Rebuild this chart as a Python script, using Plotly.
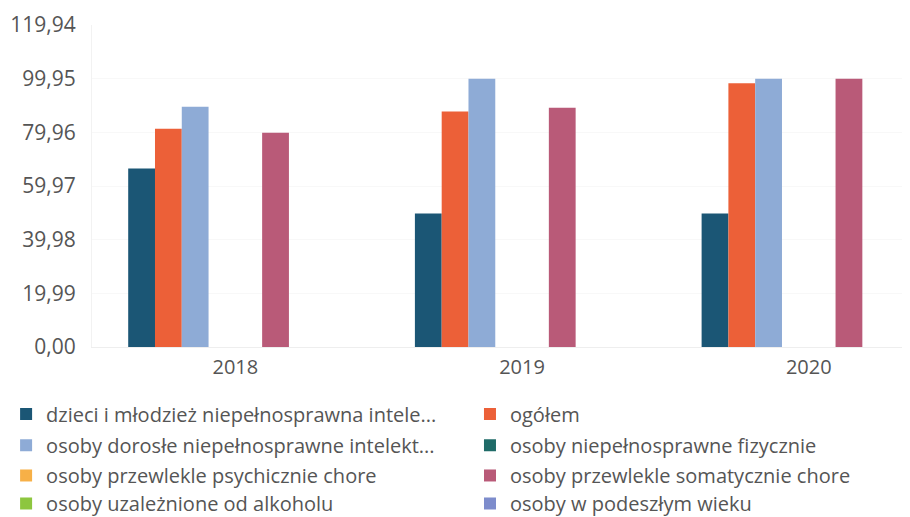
import plotly.graph_objects as go

years = ['2018', '2019', '2020']

series_names = [
    'dzieci i młodzież niepełnosprawna intele...',
    'ogółem',
    'osoby dorosłe niepełnosprawne intelekt...',
    'osoby niepełnosprawne fizycznie',
    'osoby przewlekle psychicznie chore',
    'osoby przewlekle somatycznie chore',
    'osoby uzależnione od alkoholu',
    'osoby w podeszłym wieku',
]

dzieci = [66.5, 49.7, 49.7]
ogolem = [81.3, 87.7, 98.2]
dorosle = [89.5, 99.95, 99.95]
fizycznie = [None, None, None]
psychicznie = [None, None, None]
somatycznie = [79.8, 89.1, 99.9]
alkohol = [None, None, None]
podeszly = [None, None, None]

y_ticks = [0, 19.99, 39.98, 59.97, 79.96, 99.95, 119.94]

colors = ['#1b5675', '#ec6038', '#8eabd6', '#1f6b68',
          '#f7b047', '#b95a78', '#8dc63f', '#7d8ccc']

values = [dzieci, ogolem, dorosle, fizycznie, psychicznie, somatycznie, alkohol, podeszly]

# legend grid: two columns, four rows (one small legend per entry)
legend_x = [-0.104, 0.4576]
legend_y = [-0.208, -0.305, -0.399, -0.486]

fig = go.Figure()
legends = {}
for i, (name, vals, col) in enumerate(zip(series_names, values, colors)):
    key = 'legend' if i == 0 else f'legend{i + 1}'
    fig.add_trace(go.Bar(x=years, y=vals, name=name, legend=key,
                         marker=dict(color=col, line=dict(width=0))))
    legends[key] = dict(
        orientation='h', x=legend_x[i % 2], xanchor='left',
        y=legend_y[i // 2], yanchor='middle',
        font=dict(size=20, color='#555555'), bgcolor='rgba(0,0,0,0)',
    )

fig.update_layout(
    width=910, height=517,
    barmode='group', bargap=0.2525, bargroupgap=0,
    plot_bgcolor='white', paper_bgcolor='white',
    separators=', ',
    font=dict(family='Open Sans', size=20, color='#555555'),
    margin=dict(l=84, r=0, t=17, b=178, autoexpand=False),
    xaxis=dict(type='category', range=[-0.5, 2.381], showgrid=False,
               showline=True, linecolor='#eeeeee', ticks='',
               ticklabelstandoff=2, tickfont=dict(size=20)),
    yaxis=dict(range=[0, 119.94], tickvals=y_ticks, tickformat='.2f',
               showgrid=True, gridcolor='#f8f8f8', zeroline=False,
               showline=True, linecolor='#f2f2f2',
               ticklabelstandoff=11, tickfont=dict(size=21)),
    showlegend=True,
    **legends,
)

fig.write_html('out.html')
